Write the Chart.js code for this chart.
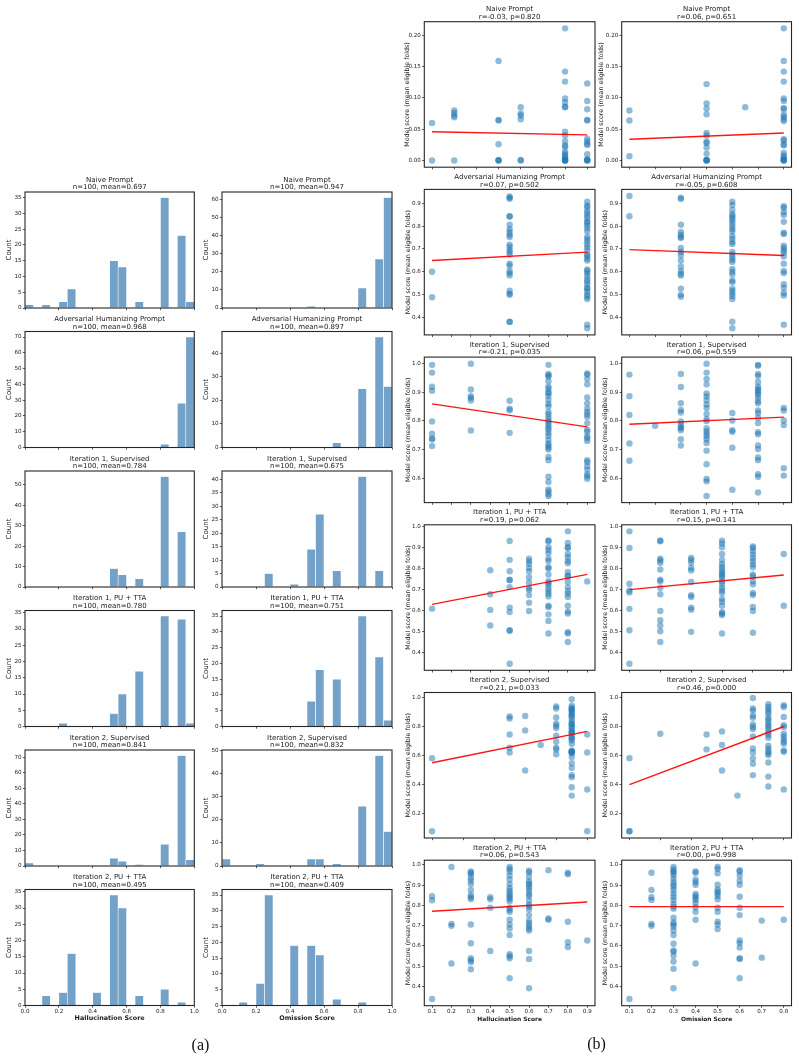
<!DOCTYPE html>
<html><head><meta charset="utf-8">
<script src="https://cdn.jsdelivr.net/npm/chart.js@4.4.0/dist/chart.umd.min.js"></script>
<style>
html,body{margin:0;padding:0;background:#fff;}
#page{position:relative;width:799px;height:1060px;overflow:hidden;background:#fff;}
#page canvas{position:absolute;}
.cap{position:absolute;font-family:"Liberation Serif","DejaVu Serif",serif;font-size:16px;color:#111;line-height:16px;transform:translate(-50%,-50%);}
</style></head>
<body><div id="page"></div>
<script>
// ---------------- DATA ----------------
const methodNames = ["Naive Prompt","Adversarial Humanizing Prompt","Iteration 1, Supervised","Iteration 1, PU + TTA","Iteration 2, Supervised","Iteration 2, PU + TTA"];
const histMeansHallu = ["0.697","0.968","0.784","0.780","0.841","0.495"];
const histMeansOmit  = ["0.947","0.897","0.675","0.751","0.832","0.409"];
const histN = 100;
// histogram bin centres (bin width 0.05 on [0,1])
const histBinCenters = [0.025,0.075,0.125,0.175,0.225,0.275,0.325,0.375,0.425,0.475,0.525,0.575,0.625,0.675,0.725,0.775,0.825,0.875,0.925,0.975];
const histNaiveHallu   = [1,0,1,0,2,6,0,0,0,0,15,13,0,2,0,0,35,0,23,2];
const histNaiveOmit    = [0,0,0,0,0,0,0,0,0,0,1,0,0,0,0,0,11,0,27,61];
const histAdvHallu     = [0,0,0,0,0,0,0,0,0,0,0,0,0,0,0,0,2,0,28,70];
const histAdvOmit      = [0,0,0,0,0,0,0,0,0,0,0,0,0,2,0,0,25,0,47,26];
const histIt1SupHallu  = [0,0,0,0,0,0,0,0,0,0,9,6,0,4,0,0,54,0,27,0];
const histIt1SupOmit   = [0,0,0,0,0,5,0,0,1,0,14,27,0,6,0,0,41,0,6,0];
const histIt1PuHallu   = [0,0,0,0,1,0,0,0,0,0,4,10,0,17,0,0,34,0,33,1];
const histIt1PuOmit    = [0,0,0,0,0,0,0,0,0,0,8,18,0,15,0,0,35,0,22,2];
const histIt2SupHallu  = [2,0,0,0,0,0,0,0,0,0,5,3,0,1,0,0,14,0,71,4];
const histIt2SupOmit   = [3,0,0,0,1,0,0,0,0,0,3,3,0,1,0,0,26,0,48,15];
const histIt2PuHallu   = [0,0,3,0,4,16,0,0,4,0,34,30,0,3,0,0,5,0,1,0];
const histIt2PuOmit    = [0,0,1,0,7,35,0,0,19,0,19,16,0,2,0,0,1,0,0,0];
const histYStepHallu = [5,10,10,5,10,5];
const histYStepOmit  = [10,10,5,5,10,5];
const histXTicks = [0.0,0.2,0.4,0.6,0.8,1.0];

// scatter: [x score, [model scores...]]
const scNaiveHallu = [[0.1,[0.060,0.000]],[0.2,[0.080,0.076,0.072,0.069,0.000]],[0.4,[0.159,0.065,0.064,0.026,0.000,0.000,0.001]],[0.5,[0.085,0.075,0.072,0.066,0.001,0.000]],[0.7,[0.211,0.142,0.126,0.099,0.093,0.086,0.085,0.046,0.040,0.031,0.024,0.022,0.014,0.011,0.008,0.005,0.003,0.001,0.000,0.000,0.000]],[0.8,[0.123,0.095,0.082,0.065,0.064,0.035,0.031,0.027,0.025,0.010,0.002,0.001,0.000,0.000]]];
const scNaiveOmit = [[0.1,[0.080,0.064,0.007]],[0.4,[0.122,0.091,0.083,0.074,0.044,0.040,0.030,0.028,0.021,0.011,0.001,0.000,0.000,0.001]],[0.55,[0.085]],[0.7,[0.211,0.159,0.142,0.126,0.099,0.095,0.084,0.082,0.073,0.070,0.066,0.063,0.034,0.032,0.026,0.024,0.012,0.008,0.005,0.002,0.000,0.000,0.001]]];
const scAdvHallu = [[0.1,[0.600,0.488]],[0.5,[0.930,0.925,0.920,0.843,0.842,0.806,0.787,0.774,0.762,0.752,0.719,0.709,0.696,0.686,0.675,0.635,0.626,0.603,0.594,0.584,0.517,0.504,0.499,0.381,0.380]],[0.9,[0.907,0.890,0.884,0.868,0.857,0.846,0.835,0.820,0.815,0.803,0.791,0.777,0.754,0.743,0.733,0.719,0.707,0.693,0.675,0.670,0.658,0.649,0.610,0.603,0.594,0.581,0.567,0.557,0.545,0.530,0.525,0.513,0.499,0.490,0.480,0.368,0.352]]];
const scAdvOmit = [[0.1,[0.932,0.843]],[0.3,[0.925,0.919,0.806,0.774,0.762,0.752,0.748,0.704,0.687,0.672,0.649,0.623,0.603,0.591,0.583,0.526,0.499,0.490]],[0.5,[0.907,0.893,0.871,0.852,0.843,0.835,0.823,0.813,0.799,0.787,0.777,0.757,0.745,0.730,0.722,0.687,0.675,0.664,0.652,0.643,0.612,0.600,0.588,0.562,0.554,0.526,0.516,0.504,0.493,0.480,0.381,0.352]],[0.7,[0.887,0.881,0.861,0.849,0.819,0.771,0.765,0.714,0.704,0.693,0.683,0.667,0.635,0.603,0.594,0.545,0.530,0.507,0.496,0.368]]];
const scIt1SupHallu = [[0.1,[0.995,0.968,0.919,0.905,0.798,0.755,0.738,0.736,0.712]],[0.3,[0.999,0.909,0.886,0.880,0.871,0.766]],[0.5,[0.870,0.842,0.837,0.758]],[0.7,[0.995,0.963,0.958,0.954,0.938,0.919,0.912,0.900,0.896,0.887,0.873,0.859,0.850,0.831,0.822,0.811,0.801,0.794,0.785,0.776,0.769,0.758,0.748,0.734,0.721,0.714,0.707,0.700,0.674,0.663,0.605,0.587,0.561,0.554,0.545,0.538]],[0.9,[0.965,0.961,0.946,0.927,0.881,0.861,0.843,0.831,0.822,0.813,0.792,0.769,0.762,0.746,0.739,0.730,0.663,0.656,0.642,0.630,0.614,0.607,0.598]]];
const scIt1SupOmit = [[0.1,[0.961,0.886,0.820,0.721,0.661]],[0.2,[0.783]],[0.3,[0.963,0.918,0.861,0.838,0.829,0.798,0.788,0.778,0.774,0.767,0.736,0.714]],[0.4,[0.999,0.968,0.946,0.927,0.895,0.885,0.872,0.857,0.845,0.824,0.806,0.799,0.774,0.764,0.755,0.746,0.736,0.723,0.696,0.649,0.597,0.589,0.538]],[0.5,[0.827,0.801,0.767,0.762,0.706,0.560]],[0.6,[0.995,0.992,0.963,0.956,0.935,0.919,0.912,0.905,0.898,0.891,0.880,0.868,0.861,0.836,0.827,0.811,0.792,0.760,0.753,0.714,0.702,0.672,0.663,0.614,0.605,0.550]],[0.7,[0.845,0.836,0.801,0.785,0.635,0.609]]];
const scIt1PuHallu = [[0.1,[0.609]],[0.4,[0.791,0.677,0.603,0.529]],[0.5,[0.929,0.840,0.786,0.746,0.744,0.711,0.614,0.593,0.507,0.504,0.348]],[0.6,[0.846,0.834,0.821,0.802,0.786,0.758,0.733,0.705,0.699,0.673,0.637,0.598]],[0.7,[0.932,0.928,0.900,0.887,0.871,0.846,0.834,0.805,0.799,0.771,0.739,0.730,0.721,0.705,0.692,0.680,0.667,0.623,0.617,0.582,0.551,0.491]],[0.8,[0.975,0.920,0.900,0.896,0.868,0.852,0.834,0.824,0.783,0.765,0.761,0.736,0.711,0.692,0.680,0.664,0.623,0.595,0.586,0.498,0.491,0.451]],[0.9,[0.738]]];
const scIt1PuOmit = [[0.1,[0.975,0.896,0.727,0.695,0.686,0.608,0.507,0.348]],[0.2,[0.932,0.928,0.846,0.837,0.826,0.794,0.746,0.739,0.708,0.677,0.598,0.554,0.529,0.502,0.451]],[0.3,[0.849,0.840,0.826,0.802,0.790,0.735,0.673,0.664,0.614,0.604,0.499]],[0.4,[0.931,0.918,0.900,0.868,0.840,0.821,0.808,0.796,0.783,0.774,0.765,0.755,0.739,0.727,0.708,0.695,0.683,0.655,0.642,0.623,0.592,0.586,0.579,0.491]],[0.5,[0.903,0.896,0.881,0.865,0.849,0.834,0.818,0.805,0.771,0.761,0.739,0.724,0.683,0.673,0.617,0.598,0.495]],[0.6,[0.868,0.623]]];
const scIt2SupHallu = [[0.1,[0.584,0.080]],[0.35,[0.871,0.857,0.747,0.655,0.623]],[0.4,[0.874,0.775,0.499]],[0.45,[0.674]],[0.5,[0.940,0.926,0.864,0.821,0.807,0.791,0.738,0.697,0.655,0.644,0.611]],[0.55,[0.990,0.945,0.931,0.917,0.903,0.890,0.871,0.853,0.834,0.816,0.802,0.789,0.775,0.761,0.743,0.724,0.706,0.683,0.637,0.628,0.618,0.591,0.549,0.517,0.467,0.453,0.384,0.326,0.920,0.880,0.820,0.760,0.720,0.630,0.625]],[0.6,[0.747,0.623,0.368,0.080]]];
const scIt2SupOmit = [[0.1,[0.584,0.080,0.080]],[0.2,[0.752]],[0.35,[0.747,0.644]],[0.4,[0.768,0.674,0.499]],[0.45,[0.326]],[0.5,[0.998,0.926,0.913,0.878,0.862,0.816,0.798,0.784,0.733,0.651,0.623,0.582,0.545,0.467]],[0.55,[0.956,0.936,0.922,0.903,0.890,0.862,0.848,0.830,0.811,0.798,0.779,0.761,0.743,0.724,0.669,0.651,0.632,0.618,0.605,0.554,0.457,0.389]],[0.6,[0.949,0.936,0.867,0.811,0.798,0.752,0.733,0.715,0.697,0.683,0.637,0.628,0.368]]];
const scIt2PuHallu = [[0.1,[0.845,0.825,0.338]],[0.2,[0.990,0.709,0.699,0.513]],[0.3,[0.967,0.961,0.954,0.935,0.922,0.905,0.876,0.850,0.840,0.831,0.706,0.613,0.539,0.529,0.520,0.485]],[0.4,[0.840,0.830,0.788,0.575]],[0.5,[0.990,0.980,0.967,0.948,0.928,0.905,0.886,0.873,0.860,0.850,0.840,0.831,0.820,0.788,0.778,0.768,0.729,0.706,0.686,0.654,0.559,0.549,0.539,0.441]],[0.6,[0.971,0.964,0.941,0.918,0.908,0.899,0.886,0.873,0.856,0.846,0.824,0.804,0.794,0.781,0.752,0.725,0.712,0.699,0.686,0.676,0.575,0.536,0.391]],[0.7,[0.974,0.735,0.729]],[0.8,[0.961,0.954,0.719,0.618,0.595]],[0.9,[0.627]]];
const scIt2PuOmit = [[0.1,[0.338]],[0.2,[0.961,0.876,0.840,0.827,0.709,0.699]],[0.3,[0.990,0.977,0.967,0.961,0.948,0.931,0.915,0.902,0.892,0.876,0.859,0.843,0.827,0.807,0.794,0.784,0.739,0.716,0.706,0.696,0.676,0.654,0.611,0.578,0.572,0.552,0.523,0.487,0.391]],[0.4,[0.967,0.961,0.928,0.915,0.902,0.856,0.846,0.837,0.827,0.810,0.791,0.768,0.729,0.513]],[0.5,[0.990,0.980,0.958,0.902,0.879,0.869,0.859,0.846,0.830,0.788,0.768,0.719,0.706,0.683]],[0.6,[0.974,0.967,0.948,0.922,0.902,0.843,0.788,0.752,0.627,0.614,0.592,0.539,0.536,0.441]],[0.7,[0.725,0.542]],[0.8,[0.729]]];

// fitted regression lines: [[x0,y0],[x1,y1]]
const fitNaiveHallu  = [[0.1,0.046],[0.8,0.041]];
const fitNaiveOmit   = [[0.1,0.034],[0.7,0.044]];
const fitAdvHallu    = [[0.1,0.649],[0.9,0.686]];
const fitAdvOmit     = [[0.1,0.697],[0.7,0.671]];
const fitIt1SupHallu = [[0.1,0.859],[0.9,0.779]];
const fitIt1SupOmit  = [[0.1,0.788],[0.7,0.813]];
const fitIt1PuHallu  = [[0.1,0.629],[0.9,0.771]];
const fitIt1PuOmit   = [[0.1,0.699],[0.6,0.768]];
const fitIt2SupHallu = [[0.1,0.552],[0.6,0.768]];
const fitIt2SupOmit  = [[0.1,0.402],[0.6,0.802]];
const fitIt2PuHallu  = [[0.1,0.771],[0.9,0.817]];
const fitIt2PuOmit   = [[0.1,0.794],[0.8,0.794]];

const corrHallu = ["r=-0.03, p=0.820","r=0.07, p=0.502","r=-0.21, p=0.035","r=0.19, p=0.062","r=0.21, p=0.033","r=0.06, p=0.543"];
const corrOmit  = ["r=0.06, p=0.651","r=-0.05, p=0.608","r=0.06, p=0.559","r=0.15, p=0.141","r=0.46, p=0.000","r=0.00, p=0.998"];
// x-score ranges of each scatter panel (tick values step 0.1)
const scXRangeHallu = [[0.1,0.8],[0.1,0.9],[0.1,0.9],[0.1,0.9],[0.1,0.6],[0.1,0.9]];
const scXRangeOmit  = [[0.1,0.7],[0.1,0.7],[0.1,0.7],[0.1,0.6],[0.1,0.6],[0.1,0.8]];
// y-axis limits and tick step of each scatter row
const scYLimits = [[-0.0106,0.2216],[0.323,0.961],[0.515,1.022],[0.317,1.006],[0.034,1.036],[0.305,1.023]];
const scYSteps  = [0.05,0.1,0.1,0.1,0.2,0.1];
const scYDecimals = [2,1,1,1,1,1];

// ---------------- LAYOUT / STYLE ----------------
const FONT = '"DejaVu Sans", "Liberation Sans", sans-serif';
const TXT = '#1a1a1a';
const page = document.getElementById('page');

const framePlugin = {
  id: 'frame',
  afterDraw(chart, args, opts) {
    const {ctx, chartArea: a} = chart;
    ctx.save();
    ctx.strokeStyle = '#262626';
    ctx.lineWidth = 1.1;
    ctx.strokeRect(a.left, a.top, a.right - a.left, a.bottom - a.top);
    ctx.fillStyle = TXT;
    ctx.font = '7px ' + FONT;
    ctx.textAlign = 'center';
    ctx.textBaseline = 'alphabetic';
    const cx = (a.left + a.right) / 2;
    ctx.fillText(opts.lines[0], cx, a.top - 10.4);
    ctx.fillText(opts.lines[1], cx, a.top - 2.9);
    ctx.restore();
  }
};

function buildChart(spec) {
  const p = spec.plot;
  const cl = Math.floor(spec.ylabX - 6);
  const ct = Math.floor(p.t - 22);
  const cr = Math.ceil(p.r + 6);
  const cb = spec.bottom ? Math.ceil(spec.xlabY + 8) : Math.ceil(p.b + 6);
  const W = cr - cl, H = cb - ct;
  const canvas = document.createElement('canvas');
  canvas.width = W; canvas.height = H;
  canvas.style.left = cl + 'px'; canvas.style.top = ct + 'px';
  canvas.style.width = W + 'px'; canvas.style.height = H + 'px';
  page.appendChild(canvas);
  const yWidth = p.l - cl;
  const xHeight = cb - p.b;
  const ylabLH = spec.ylabSize * 1.2;
  const xlabLH = spec.xlabSize * 1.2;
  const tickFont = {family: FONT, size: 5.6, lineHeight: 1.0};
  const gridOpt = {display: true, drawOnChartArea: false, drawTicks: true, tickLength: 2.2, tickWidth: 0.8, tickColor: '#333', offset: false};
  new Chart(canvas, {
    type: spec.type,
    data: {datasets: spec.datasets},
    options: {
      responsive: false, animation: false, devicePixelRatio: 1, events: [],
      layout: {padding: {top: p.t - ct, right: cr - p.r, left: 0, bottom: 0}},
      plugins: {legend: {display: false}, tooltip: {enabled: false}, title: {display: false}, frame: {lines: spec.titles}},
      scales: {
        x: {
          type: 'linear', min: spec.x.min, max: spec.x.max, offset: false,
          grid: gridOpt, border: {display: false},
          ticks: {display: spec.bottom, stepSize: spec.x.step, autoSkip: false, maxRotation: 0, includeBounds: false,
                  padding: 1, font: tickFont, color: TXT, callback: v => Number(v).toFixed(1)},
          title: {display: spec.bottom, text: spec.xlabel, color: TXT,
                  font: {family: FONT, size: spec.xlabSize, weight: 'bold'},
                  padding: {top: 0, bottom: (cb - spec.xlabY) - xlabLH / 2}},
          afterFit: s => { s.height = xHeight; s.paddingLeft = 0; s.paddingRight = 0; }
        },
        y: {
          type: 'linear', min: spec.y.min, max: spec.y.max, beginAtZero: false,
          grid: gridOpt, border: {display: false},
          ticks: {stepSize: spec.y.step, autoSkip: false, includeBounds: false, padding: 1.2,
                  font: tickFont, color: TXT, callback: v => Number(v).toFixed(spec.y.dec)},
          title: {display: true, text: spec.ylabel, color: TXT,
                  font: {family: FONT, size: spec.ylabSize},
                  padding: {top: (spec.ylabX - cl) - ylabLH / 2, bottom: 0}},
          afterFit: s => { s.width = yWidth; s.paddingTop = 0; s.paddingBottom = 0; }
        }
      }
    },
    plugins: [framePlugin]
  });
}

// ---------- histograms (a) ----------
const histHallu = [histNaiveHallu, histAdvHallu, histIt1SupHallu, histIt1PuHallu, histIt2SupHallu, histIt2PuHallu];
const histOmit  = [histNaiveOmit, histAdvOmit, histIt1SupOmit, histIt1PuOmit, histIt2SupOmit, histIt2PuOmit];
const histCols = [
  {l: 25.0, r: 194.3, ylabX: 9.5, counts: histHallu, means: histMeansHallu, steps: histYStepHallu, xlabel: 'Hallucination Score'},
  {l: 222.0, r: 392.0, ylabX: 206.3, counts: histOmit, means: histMeansOmit, steps: histYStepOmit, xlabel: 'Omission Score'}
];
const BAR_COLOR = 'rgb(116,161,199)';
for (let row = 0; row < 6; row++) {
  const t = 192 + row * 139.5;
  histCols.forEach(col => {
    const counts = col.counts[row];
    const maxC = Math.max(...counts);
    buildChart({
      type: 'bar',
      plot: {l: col.l, r: col.r, t: t, b: t + 116},
      ylabX: col.ylabX, bottom: row === 5, xlabY: 1018.5,
      titles: [methodNames[row], 'n=' + histN + ', mean=' + col.means[row]],
      ylabel: 'Count', ylabSize: 7, xlabel: col.xlabel, xlabSize: 6.4,
      x: {min: histXTicks[0], max: histXTicks[histXTicks.length - 1], step: histXTicks[1] - histXTicks[0]},
      y: {min: 0, max: maxC * 1.05, step: col.steps[row], dec: 0},
      datasets: [{
        data: histBinCenters.map((c, i) => ({x: c, y: counts[i]})),
        backgroundColor: BAR_COLOR, borderColor: 'rgba(255,255,255,0.85)', borderWidth: 0.6,
        borderSkipped: 'start', categoryPercentage: 1.0, barPercentage: 1.0
      }]
    });
  });
}

// ---------- scatter plots (b) ----------
const scHallu = [scNaiveHallu, scAdvHallu, scIt1SupHallu, scIt1PuHallu, scIt2SupHallu, scIt2PuHallu];
const scOmit  = [scNaiveOmit, scAdvOmit, scIt1SupOmit, scIt1PuOmit, scIt2SupOmit, scIt2PuOmit];
const fitHallu = [fitNaiveHallu, fitAdvHallu, fitIt1SupHallu, fitIt1PuHallu, fitIt2SupHallu, fitIt2PuHallu];
const fitOmit  = [fitNaiveOmit, fitAdvOmit, fitIt1SupOmit, fitIt1PuOmit, fitIt2SupOmit, fitIt2PuOmit];
const scCols = [
  {l: 424.3, r: 595.0, ylabX: [407, 408, 408, 408, 408, 408], groups: scHallu, fits: fitHallu, corr: corrHallu, xr: scXRangeHallu, xlabel: 'Hallucination Score'},
  {l: 621.7, r: 791.5, ylabX: [601, 605, 605, 605, 605, 605], groups: scOmit, fits: fitOmit, corr: corrOmit, xr: scXRangeOmit, xlabel: 'Omission Score'}
];
for (let row = 0; row < 6; row++) {
  const t = 21.7 + row * 167.7;
  scCols.forEach(col => {
    const pts = col.groups[row].flatMap(([x, ys]) => ys.map(y => ({x: x, y: y})));
    const [x0, x1] = col.xr[row];
    const m = (x1 - x0) * 0.05;
    const fit = col.fits[row];
    buildChart({
      type: 'scatter',
      plot: {l: col.l, r: col.r, t: t, b: t + 145.5},
      ylabX: col.ylabX[row], bottom: row === 5, xlabY: 1019,
      titles: [methodNames[row], col.corr[row]],
      ylabel: 'Model score (mean eligible folds)', ylabSize: 6.3, xlabel: col.xlabel, xlabSize: 5.9,
      x: {min: x0 - m, max: x1 + m, step: 0.1},
      y: {min: scYLimits[row][0], max: scYLimits[row][1], step: scYSteps[row], dec: scYDecimals[row]},
      datasets: [
        {type: 'line', data: fit.map(([x, y]) => ({x: x, y: y})), borderColor: 'rgba(255,0,0,0.92)', borderWidth: 1.4,
         pointRadius: 0, showLine: true, fill: false, order: 0},
        {type: 'scatter', data: pts, backgroundColor: 'rgba(31,119,180,0.5)', borderWidth: 0,
         pointRadius: 3.2, order: 1}
      ]
    });
  });
}

// captions
[['(a)', 200.5, 1045], ['(b)', 596.5, 1044]].forEach(([txt, x, y]) => {
  const d = document.createElement('div');
  d.className = 'cap'; d.textContent = txt;
  d.style.left = x + 'px'; d.style.top = y + 'px';
  page.appendChild(d);
});
</script>
</body></html>
